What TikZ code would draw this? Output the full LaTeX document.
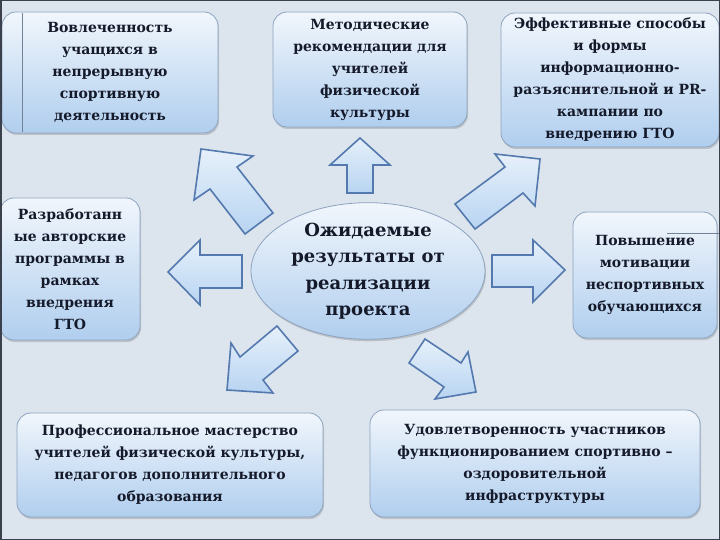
\documentclass[tikz,border=0pt]{standalone}
\usepackage{fontspec}
\setmainfont{DejaVu Serif}
\usetikzlibrary{shadows,shapes.geometric}
\definecolor{bg}{HTML}{DCE5EE}
\definecolor{frame}{HTML}{3A404C}
\definecolor{boxline}{HTML}{8DA3BF}
\definecolor{boxtop}{HTML}{F1F6FC}
\definecolor{boxbot}{HTML}{B0CEEE}
\definecolor{arrline}{HTML}{5479AE}
\definecolor{arrtop}{HTML}{E6F0FA}
\definecolor{arrbot}{HTML}{B8D4F2}
\definecolor{txt}{HTML}{151A2B}
\begin{document}
\begin{tikzpicture}[x=1pt,y=-1pt,
  infobox/.style={draw=boxline, line width=0.8pt, rounded corners=14pt,
    top color=boxtop, bottom color=boxbot, align=center, text=txt,
    font=\fontsize{14}{22}\selectfont\bfseries, inner sep=0pt,
    drop shadow={opacity=0.35, shadow xshift=1pt, shadow yshift=-2pt}},
  centre/.style={ellipse, draw=boxline, line width=0.8pt,
    top color=boxtop, bottom color=boxbot, align=center, text=txt,
    font=\fontsize{18}{26.5}\selectfont\bfseries, inner sep=0pt,
    drop shadow={opacity=0.35, shadow xshift=1pt, shadow yshift=-2pt}},
  blockarrow/.style={draw=arrline, line width=1.6pt, line join=miter,
    top color=arrtop, bottom color=arrbot},
  artline/.style={draw=boxline!80!black, line width=0.8pt}
]
\useasboundingbox (0,0) rectangle (720,540);
\fill[bg] (0,0) rectangle (720,540);

% boxes
\node[infobox, minimum width=216pt, minimum height=121pt] (b1) at (110,72.5)
  {Вовлеченность\\учащихся в\\непрерывную\\спортивную\\деятельность};
\draw[artline] (22,13) -- (22,132);
\node[infobox, minimum width=194pt, minimum height=115pt] (b2) at (370,69.5)
  {Методические\\рекомендации для\\учителей\\физической\\культуры};
\node[infobox, minimum width=218pt, minimum height=134pt] (b3) at (610,80)
  {Эффективные способы\\и формы\\информационно-\\разъяснительной и PR-\\кампании по\\внедрению ГТО};
\node[infobox, minimum width=140pt, minimum height=142pt] (b4) at (70,269)
  {Разработанн\\ые авторские\\программы в\\рамках\\внедрения\\ГТО};
\node[centre, minimum width=234pt, minimum height=132pt] (c) at (368,271)
  {Ожидаемые\\результаты от\\реализации\\проекта};
\node[infobox, minimum width=144pt, minimum height=126pt] (b6) at (645,275)
  {Повышение\\мотивации\\неспортивных\\обучающихся};
\draw[artline] (667,233) -- (720,233);
\node[infobox, minimum width=306pt, minimum height=104pt] (b7) at (170,465)
  {Профессиональное мастерство\\учителей физической культуры,\\педагогов дополнительного\\образования};
\node[infobox, minimum width=330pt, minimum height=107pt] (b8) at (535,463.5)
  {Удовлетворенность участников\\функционированием спортивно –\\оздоровительной\\инфраструктуры};

% block arrows
\path[blockarrow] (360,138) -- (390,165) -- (373,165) -- (373,193) -- (347,193) -- (347,165) -- (330,165) -- cycle;
\path[blockarrow] (201,149) -- (253,156) -- (237,167) -- (273,213) -- (245,234) -- (210,189) -- (194,200) -- cycle;
\path[blockarrow] (540,159) -- (535,206) -- (523,193) -- (475,229) -- (455,204) -- (505,167) -- (495,154) -- cycle;
\path[blockarrow] (168,272) -- (200,240) -- (200,255) -- (242,255) -- (242,288) -- (200,288) -- (200,305) -- cycle;
\path[blockarrow] (565,270) -- (533,240) -- (533,255) -- (492,255) -- (492,287) -- (533,287) -- (533,302) -- cycle;
\path[blockarrow] (227,390) -- (231,343) -- (240,357) -- (277,326) -- (298,351) -- (263,380) -- (273,393) -- cycle;
\path[blockarrow] (476,392) -- (435,399) -- (444,387) -- (409,363) -- (425,339) -- (461,363) -- (468,352) -- cycle;

\draw[frame, line width=3pt] (0,0) rectangle (720,540);
\end{tikzpicture}
\end{document}
